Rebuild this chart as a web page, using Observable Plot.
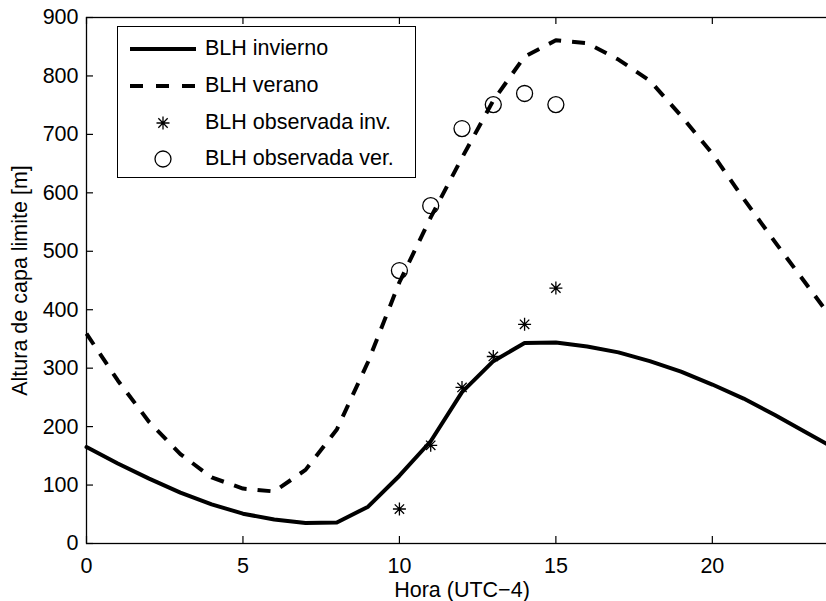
<!DOCTYPE html>
<html>
<head>
<meta charset="utf-8">
<script src="https://cdn.jsdelivr.net/npm/d3@7"></script>
<script src="https://cdn.jsdelivr.net/npm/@observablehq/plot@0.6"></script>
<style>
  html, body { margin: 0; padding: 0; background: #fff; overflow: hidden; width: 826px; height: 601px; }
  #wrap { position: relative; width: 826px; height: 601px; overflow: hidden; }
  #wrap > svg { position: absolute; left: 0; top: 0; }
  #legend { position: absolute; left: 117px; top: 26px; width: 299px; height: 152px; border: 1.3px solid #000;
            background: #fff; box-sizing: border-box; font-family: "Liberation Sans", Arial, Helvetica, sans-serif; font-size: 21.5px; color: #000; }
  .row { position: absolute; left: 0; height: 30px; width: 100%; }
  .row svg { position: absolute; left: 12px; top: 0; }
  .row span { position: absolute; left: 87px; top: 50%; transform: translateY(-50%); white-space: nowrap; line-height: 1; }
</style>
</head>
<body>
<div id="wrap"></div>
<script>
// ---- data ----
const hours = [0,1,2,3,4,5,6,7,8,9,10,11,12,13,14,15,16,17,18,19,20,21,22,23,24];
const blhInvierno = [165,137,111,87,67,51,41,35,36,63,116,175,259,312,343,344,337,327,312,294,272,248,220,190,160];
const blhVerano   = [359,279,208,153,113,94,89,126,195,311,447,558,660,758,833,861,856,828,792,732,667,590,516,444,372];
const obsHours = [10,11,12,13,14,15];
const obsInv   = [59,168,267,320,375,437];
const obsVer   = [467,578,710,751,770,751];
const xTicks = [0,5,10,15,20];
const yTicks = [0,100,200,300,400,500,600,700,800,900];
const seriesNames = ["BLH invierno","BLH verano","BLH observada inv.","BLH observada ver."];
const xLabel = "Hora (UTC\u22124)";
const yLabel = "Altura de capa limite [m]";

// ---- tables ----
const tInv = hours.map((h, i) => ({h, v: blhInvierno[i]}));
const tVer = hours.map((h, i) => ({h, v: blhVerano[i]}));
const tObsInv = obsHours.map((h, i) => ({h, v: obsInv[i]}));
const tObsVer = obsHours.map((h, i) => ({h, v: obsVer[i]}));

const asterisk = {
  draw(ctx, size) {
    const r = Math.sqrt(size / Math.PI);
    const d = r * 0.72;
    ctx.moveTo(0, -r); ctx.lineTo(0, r);
    ctx.moveTo(-r, 0); ctx.lineTo(r, 0);
    ctx.moveTo(-d, -d); ctx.lineTo(d, d);
    ctx.moveTo(-d, d); ctx.lineTo(d, -d);
  }
};

const W = 826, H = 601, mL = 86, mT = 17, mB = 58, mR = -11;
const frameH = H - mT - mB, frameW = W - mL - mR;
const tick = 7;

const chart = Plot.plot({
  width: W, height: H,
  marginLeft: mL, marginTop: mT, marginBottom: mB, marginRight: mR,
  x: {domain: [0, 24]},
  y: {domain: [0, 900]},
  style: {fontFamily: '"Liberation Sans", Arial, Helvetica, sans-serif', fontSize: "21.5px", color: "black", background: "white", overflow: "hidden"},
  marks: [
    Plot.line(tVer, {x: "h", y: "v", stroke: "black", strokeWidth: 4, strokeDasharray: "13,11", strokeLinecap: "butt", strokeLinejoin: "round"}),
    Plot.line(tInv, {x: "h", y: "v", stroke: "black", strokeWidth: 4, strokeLinejoin: "round"}),
    Plot.dot(tObsInv, {x: "h", y: "v", symbol: asterisk, r: 6.5, stroke: "black", strokeWidth: 1.3, fill: "none"}),
    Plot.dot(tObsVer, {x: "h", y: "v", r: 8, stroke: "black", strokeWidth: 1.3, fill: "none"}),
    Plot.frame({stroke: "black", strokeWidth: 1.3}),
    Plot.ruleX(xTicks, {x: d => d, insetTop: frameH - tick, stroke: "black", strokeWidth: 1.2}),
    Plot.ruleX(xTicks, {x: d => d, insetBottom: frameH - tick, stroke: "black", strokeWidth: 1.2}),
    Plot.ruleY(yTicks, {y: d => d, insetRight: frameW - tick, stroke: "black", strokeWidth: 1.2}),
    Plot.axisX(xTicks, {tickSize: 0, tickPadding: 14, label: null, fill: "black"}),
    Plot.axisY(yTicks, {tickSize: 0, tickPadding: 8, label: null, fill: "black"}),
    Plot.text([xLabel], {frameAnchor: "bottom", text: d => d, dy: 38, lineAnchor: "top", fill: "black"}),
    Plot.text([yLabel], {frameAnchor: "left", text: d => d, rotate: -90, dx: -66, textAnchor: "middle", fill: "black"})
  ]
});
const wrap = document.getElementById("wrap");
wrap.appendChild(chart);

// ---- legend (HTML overlay inside the axes, as in the reference) ----
const legend = document.createElement("div");
legend.id = "legend";
const rowCenters = [22, 59, 96, 132];
const NS = "http://www.w3.org/2000/svg";
seriesNames.forEach((name, i) => {
  const row = document.createElement("div");
  row.className = "row";
  row.style.top = (rowCenters[i] - 15) + "px";
  const svg = document.createElementNS(NS, "svg");
  svg.setAttribute("width", 66); svg.setAttribute("height", 30);
  if (i < 2) {
    const l = document.createElementNS(NS, "line");
    l.setAttribute("x1", 0); l.setAttribute("x2", 66); l.setAttribute("y1", 15); l.setAttribute("y2", 15);
    l.setAttribute("stroke", "black"); l.setAttribute("stroke-width", 4);
    if (i === 1) l.setAttribute("stroke-dasharray", "13,13");
    svg.appendChild(l);
  } else if (i === 2) {
    const g = document.createElementNS(NS, "g");
    g.setAttribute("transform", "translate(33,15)");
    const p = document.createElementNS(NS, "path");
    const pp = d3.path();
    asterisk.draw(pp, Math.PI * 6.5 * 6.5);
    p.setAttribute("d", pp.toString());
    p.setAttribute("stroke", "black"); p.setAttribute("stroke-width", 1.3); p.setAttribute("fill", "none");
    g.appendChild(p); svg.appendChild(g);
  } else {
    const c = document.createElementNS(NS, "circle");
    c.setAttribute("cx", 33); c.setAttribute("cy", 15); c.setAttribute("r", 8);
    c.setAttribute("stroke", "black"); c.setAttribute("stroke-width", 1.3); c.setAttribute("fill", "none");
    svg.appendChild(c);
  }
  const span = document.createElement("span");
  span.textContent = name;
  row.appendChild(svg); row.appendChild(span);
  legend.appendChild(row);
});
wrap.appendChild(legend);
</script>
</body>
</html>
